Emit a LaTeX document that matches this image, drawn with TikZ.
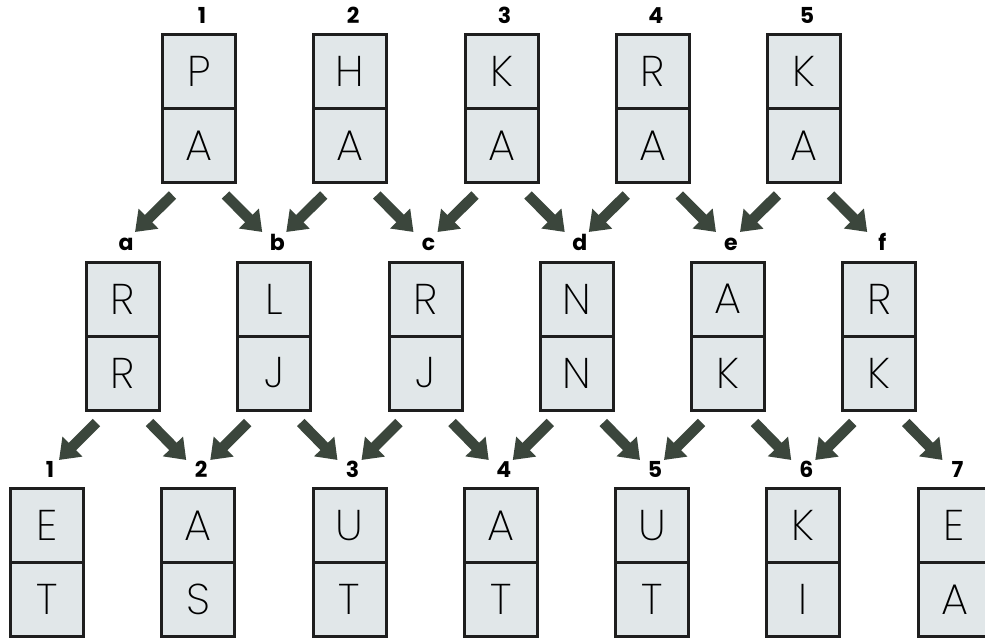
\documentclass[tikz,border=0pt]{standalone}
\usepackage{fontspec}
\setmainfont{Poppins}
\newfontfamily\boxfont{Poppins ExtraLight}
\usetikzlibrary{arrows.meta}
\definecolor{cellfill}{HTML}{E1E7E9}
\definecolor{cellline}{HTML}{1E1E1E}
\definecolor{arrcol}{HTML}{3B463C}
\begin{document}
\begin{tikzpicture}[x=1pt,y=-1pt,
  cell/.style={draw=cellline, fill=cellfill, line width=3pt, minimum width=73pt,
    minimum height=74pt, inner sep=0pt, font=\boxfont\fontsize{43}{43}\selectfont},
  lab/.style={anchor=base, inner sep=0pt, font=\bfseries\fontsize{22}{22}\selectfont},
  arr/.style={draw=arrcol, line width=10.5pt, -{Triangle[length=19pt,width=27pt]}}]
\useasboundingbox (0,0) rectangle (985,640);
\fill[white] (0,0) rectangle (985,640);
\clip (0,0) rectangle (985,640);
% top row
\foreach \u/\l [count=\i] in {P/A,H/A,K/A,R/A,K/A} {
  \pgfmathsetmacro\cx{199+(\i-1)*151.25}
  \node[cell] (tu\i) at (\cx,71.5) {\u};
  \node[cell] (tl\i) at (\cx,145.5) {\l};
  \node[lab] (tn\i) at (\cx+3,23) {\i};
}
% middle row
\foreach \u/\l/\n [count=\i] in {R/R/a,L/J/b,R/J/c,N/N/d,A/K/e,R/K/f} {
  \pgfmathsetmacro\cx{123+(\i-1)*151.25}
  \node[cell] (mu\i) at (\cx,299) {\u};
  \node[cell] (ml\i) at (\cx,373) {\l};
  \node[lab] (mn\i) at (\cx+3,250) {\n};
}
% bottom row
\foreach \u/\l [count=\i] in {E/T,A/S,U/T,A/T,U/T,K/I,E/A} {
  \pgfmathsetmacro\cx{47+(\i-1)*151.25}
  \node[cell] (bu\i) at (\cx,525.5) {\u};
  \node[cell] (bl\i) at (\cx,599.5) {\l};
  \node[lab] (bn\i) at (\cx+3,477) {\i};
}
% arrows top -> middle
\foreach \i in {1,...,5} {
  \pgfmathtruncatemacro\j{\i+1}
  \draw[arr] ([shift={(-26.5,11)}]tl\i.south) -- ([shift={(9,-18)}]mn\i.base);
  \draw[arr] ([shift={(26.5,11)}]tl\i.south) -- ([shift={(-15,-18)}]mn\j.base);
}
% arrows middle -> bottom
\foreach \i in {1,...,6} {
  \pgfmathtruncatemacro\j{\i+1}
  \draw[arr] ([shift={(-26.5,11)}]ml\i.south) -- ([shift={(9,-17)}]bn\i.base);
  \draw[arr] ([shift={(26.5,11)}]ml\i.south) -- ([shift={(-15,-17)}]bn\j.base);
}
\end{tikzpicture}
\end{document}
